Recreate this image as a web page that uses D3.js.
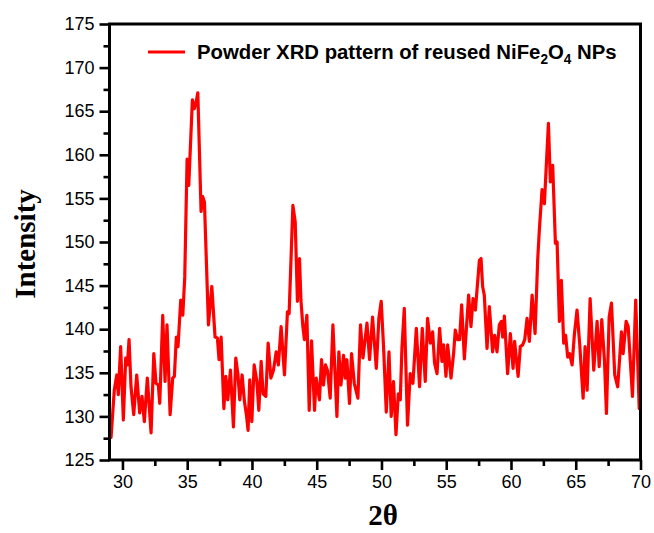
<!DOCTYPE html>
<html><head><meta charset="utf-8">
<script src="https://cdn.jsdelivr.net/npm/d3@7"></script>
<style>body{margin:0;background:#fff}svg{display:block}</style>
</head><body><svg id="c" width="654" height="533"></svg>
<script>
const twoTheta = [29.00,29.12,29.37,29.56,29.68,29.86,30.07,30.25,30.38,30.51,30.66,30.87,31.10,31.33,31.51,31.69,31.92,32.21,32.42,32.59,32.77,32.88,33.11,33.29,33.44,33.68,33.88,34.01,34.16,34.29,34.50,34.66,34.81,34.99,35.12,35.40,35.55,35.68,35.82,36.07,36.20,36.33,36.64,36.90,37.15,37.33,37.46,37.62,37.83,37.98,38.13,38.34,38.57,38.75,38.91,39.06,39.24,39.42,39.57,39.70,39.83,39.99,40.17,40.38,40.53,40.71,40.86,41.07,41.25,41.46,41.66,41.87,42.04,42.25,42.51,42.74,42.87,43.16,43.34,43.51,43.67,43.78,43.93,44.05,44.24,44.42,44.60,44.83,44.96,45.21,45.37,45.52,45.68,45.83,46.04,46.25,46.56,46.71,46.87,47.07,47.20,47.33,47.53,47.69,47.90,48.18,48.38,48.57,48.88,49.08,49.31,49.60,49.80,49.98,50.16,50.37,50.58,50.75,50.93,51.12,51.30,51.45,51.58,51.76,52.01,52.22,52.43,52.69,52.94,53.15,53.38,53.56,53.77,53.95,54.10,54.29,54.49,54.67,54.80,54.98,55.11,55.37,55.57,55.70,55.88,56.03,56.19,56.40,56.73,56.91,57.07,57.25,57.56,57.69,57.81,57.94,58.15,58.33,58.58,58.74,58.92,59.10,59.26,59.36,59.49,59.74,59.95,60.16,60.28,60.55,60.72,60.90,61.06,61.24,61.42,61.63,61.86,62.06,62.19,62.40,62.58,62.89,63.04,63.22,63.43,63.56,63.74,63.89,64.07,64.22,64.38,64.53,64.72,64.90,65.10,65.30,65.57,65.72,65.88,66.11,66.39,66.65,66.81,67.01,67.22,67.37,67.58,67.76,68.01,68.24,68.53,68.66,68.89,69.05,69.38,69.63,69.90,70.07];
const intensity = [129.4,127.6,133.0,134.75,132.5,138.0,129.6,136.7,135.9,138.8,133.4,130.2,134.75,130.4,132.3,129.4,134.4,128.1,137.2,133.8,133.6,131.5,141.6,134.0,140.5,130.2,134.4,134.6,139.1,138.0,143.35,141.6,146.0,159.5,156.5,166.3,165.3,166.0,167.1,153.5,155.2,154.6,140.5,144.9,139.1,139.0,136.5,139.1,130.9,134.6,131.9,135.3,128.8,136.7,134.9,131.9,134.75,131.7,130.2,128.4,134.2,129.4,135.9,134.0,130.7,136.3,132.6,132.3,138.4,134.4,135.3,137.4,135.9,140.3,134.75,142.0,141.8,154.2,152.3,143.2,148.1,143.35,140.3,138.8,141.6,130.7,138.65,130.7,134.4,131.9,136.5,133.6,135.9,135.3,132.1,140.5,130.0,137.4,133.6,137.0,134.4,136.5,131.5,137.2,133.8,132.1,140.5,136.7,140.7,136.5,141.4,135.5,141.25,143.2,138.0,130.5,137.4,130.0,134.0,127.9,132.6,131.9,137.8,142.4,129.0,134.9,133.8,140.1,133.4,140.1,134.0,141.25,138.4,139.7,136.1,134.9,140.1,136.3,138.2,134.6,138.2,134.4,137.2,139.9,138.8,138.8,142.8,136.6,143.9,140.3,143.5,142.2,147.9,148.1,144.9,143.9,137.8,142.6,137.4,139.3,137.4,140.5,140.9,139.1,141.5,134.9,139.5,135.5,138.6,134.6,138.0,138.2,138.8,141.25,138.6,143.9,139.5,147.9,151.4,156.0,154.4,163.6,156.9,158.8,149.85,150.0,140.9,145.6,138.4,139.3,136.8,137.2,135.9,139.5,142.2,138.4,132.1,138.0,133.0,143.5,135.3,140.9,135.7,141.1,136.3,130.35,141.4,143.0,134.75,133.4,139.7,137.2,140.9,140.3,132.3,143.35,130.9,138.2];
const xTicks = [30,35,40,45,50,55,60,65,70];
const xMinor = [32.5,37.5,42.5,47.5,52.5,57.5,62.5,67.5];
const yTicks = [125,130,135,140,145,150,155,160,165,170,175];
const yMinor = [127.5,132.5,137.5,142.5,147.5,152.5,157.5,162.5,167.5,172.5];
const xDomain = [29,70], yDomain = [125,175];

const svg = d3.select('#c');
const L=109.5, R=640.5, T=24, B=460;
const x = d3.scaleLinear().domain(xDomain).range([L,R]);
const y = d3.scaleLinear().domain(yDomain).range([B,T]);

svg.append('clipPath').attr('id','clip').append('rect').attr('x',L).attr('y',T).attr('width',R-L).attr('height',B-T);

const data = twoTheta.map((t,i)=>[t,intensity[i]]);
svg.append('path').datum(data).attr('clip-path','url(#clip)')
  .attr('fill','none').attr('stroke','#ff0000').attr('stroke-width',3.2).attr('stroke-linejoin','round')
  .attr('d', d3.line().x(d=>x(d[0])).y(d=>y(d[1])));

// frame
svg.append('rect').attr('x',L).attr('y',T).attr('width',R-L).attr('height',B-T)
  .attr('fill','none').attr('stroke','#000').attr('stroke-width',3);

function style(g){
  g.select('.domain').remove();
  g.selectAll('line').attr('stroke','#000').attr('stroke-width',2.6);
  g.selectAll('text').attr('font-family','"Liberation Sans", Arial, sans-serif').attr('font-size',18).attr('fill','#000');
}
svg.append('g').attr('transform',`translate(0,${B})`)
  .call(d3.axisBottom(x).tickValues(xTicks).tickSize(10).tickPadding(5).tickFormat(d3.format('d'))).call(style);
svg.append('g').attr('transform',`translate(0,${B})`)
  .call(d3.axisBottom(x).tickValues(xMinor).tickSize(6).tickFormat('')).call(style);
svg.append('g').attr('transform',`translate(${L},0)`)
  .call(d3.axisLeft(y).tickValues(yTicks).tickSize(10).tickPadding(5).tickFormat(d3.format('d'))).call(style);
svg.append('g').attr('transform',`translate(${L},0)`)
  .call(d3.axisLeft(y).tickValues(yMinor).tickSize(6).tickFormat('')).call(style);

// axis titles
svg.append('text').attr('transform','translate(35,244) rotate(-90)').attr('text-anchor','middle')
  .attr('font-family','"Liberation Serif", "Times New Roman", serif').attr('font-weight','bold').attr('font-size',29)
  .text('Intensity');
svg.append('text').attr('x',383).attr('y',525).attr('text-anchor','middle')
  .attr('font-family','"Liberation Serif", "Times New Roman", serif').attr('font-weight','bold').attr('font-size',29)
  .text('2θ');

// legend
svg.append('line').attr('x1',148).attr('x2',185).attr('y1',52).attr('y2',52).attr('stroke','#ff0000').attr('stroke-width',3);
const lt = svg.append('text').attr('x',197).attr('y',59)
  .attr('font-family','"Liberation Sans", Arial, sans-serif').attr('font-weight','bold').attr('font-size',21).attr('fill','#000');
lt.append('tspan').text('Powder XRD pattern of reused NiFe');
lt.append('tspan').attr('font-size',14).attr('dy',5).text('2');
lt.append('tspan').attr('dy',-5).text('O');
lt.append('tspan').attr('font-size',14).attr('dy',5).text('4');
lt.append('tspan').attr('dy',-5).text(' NPs');
const w = lt.node().getComputedTextLength();
const target = 420;
lt.attr('transform',`translate(197,0) scale(${target/w},1) translate(-197,0)`);
</script></body></html>
